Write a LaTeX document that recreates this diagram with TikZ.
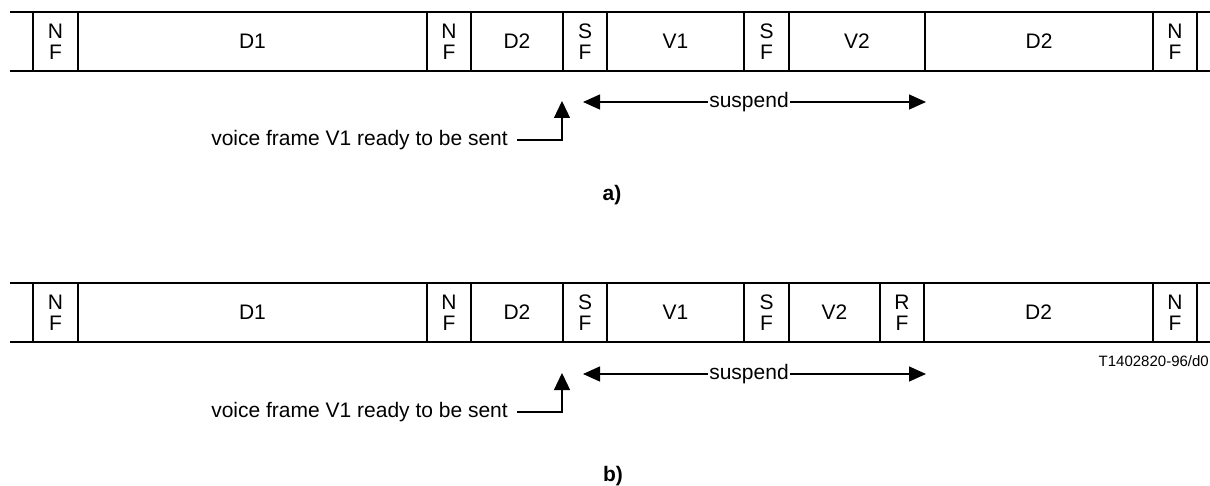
\documentclass[tikz,border=0pt]{standalone}
\usepackage{fontspec}
\setmainfont{Liberation Sans}
\usetikzlibrary{arrows.meta}
\newcommand\fcell[5]{\node[cell, minimum width={#3-#2}] (#1) at ({(#2+#3)/2},#4) {#5};}
\begin{document}
\begin{tikzpicture}[x=1pt,y=-1pt,
  cell/.style={draw, line width=2pt, minimum height=59pt, inner sep=0pt, align=center,
    font=\fontsize{21}{21}\selectfont},
  rail/.style={line width=2pt},
  lbl/.style={inner sep=0pt, font=\fontsize{21}{22}\selectfont},
  figcap/.style={inner sep=0pt, font=\fontsize{21}{22}\selectfont\bfseries},
  tip/.style={-{Triangle[length=17pt,width=16pt]}, line width=1.3pt},
  dbl/.style={{Triangle[length=17pt,width=15pt]}-{Triangle[length=17pt,width=15pt]}, line width=1.3pt}]
\useasboundingbox (0,0) rectangle (1210,486);
% ---------- row a ----------
\coordinate (aTL) at (10,12); \coordinate (aTR) at (1210,12);
\coordinate (aBL) at (10,71); \coordinate (aBR) at (1210,71);
\draw[rail] (aTL) -- (aTR);
\draw[rail] (aBL) -- (aBR);
\fcell{a1}{33}{78}{41.5}{N\\F}
\fcell{a2}{78}{427}{41.5}{D1}
\fcell{a3}{427}{471}{41.5}{N\\F}
\fcell{a4}{471}{563}{41.5}{D2}
\fcell{a5}{563}{607}{41.5}{S\\F}
\fcell{a6}{607}{744}{41.5}{V1}
\fcell{a7}{744}{789}{41.5}{S\\F}
\fcell{a8}{789}{925}{41.5}{V2}
\fcell{a9}{925}{1153}{41.5}{D2}
\fcell{a10}{1153}{1197}{41.5}{N\\F}
\node[lbl, anchor=east] (atxt) at (508,140) {voice frame V1 ready to be sent};
\coordinate (aS) at (517,140); \coordinate (aUp) at (562,101);
\draw[tip] (aS) -| (aUp);
\coordinate (aL) at (583,102); \coordinate (aR) at (926,102);
\draw[dbl] (aL) -- (aR);
\node[lbl, fill=white, inner xsep=1.5pt, inner ysep=2pt] (asus) at (749,102) {suspend};
\node[figcap] (acap) at (612,195) {a)};
% ---------- row b ----------
\coordinate (bTL) at (10,283); \coordinate (bTR) at (1210,283);
\coordinate (bBL) at (10,342); \coordinate (bBR) at (1210,342);
\draw[rail] (bTL) -- (bTR);
\draw[rail] (bBL) -- (bBR);
\fcell{b1}{33}{78}{312.5}{N\\F}
\fcell{b2}{78}{427}{312.5}{D1}
\fcell{b3}{427}{471}{312.5}{N\\F}
\fcell{b4}{471}{563}{312.5}{D2}
\fcell{b5}{563}{607}{312.5}{S\\F}
\fcell{b6}{607}{744}{312.5}{V1}
\fcell{b7}{744}{789}{312.5}{S\\F}
\fcell{b8}{789}{880}{312.5}{V2}
\fcell{b9}{880}{924}{312.5}{R\\F}
\fcell{b10}{924}{1153}{312.5}{D2}
\fcell{b11}{1153}{1197}{312.5}{N\\F}
\node[inner sep=0pt, anchor=east, font=\fontsize{15}{16}\selectfont] (bid) at (1209,361) {T1402820-96/d0};
\node[lbl, anchor=east] (btxt) at (508,412) {voice frame V1 ready to be sent};
\coordinate (bS) at (517,412); \coordinate (bUp) at (562,373);
\draw[tip] (bS) -| (bUp);
\coordinate (bL) at (583,374); \coordinate (bR) at (926,374);
\draw[dbl] (bL) -- (bR);
\node[lbl, fill=white, inner xsep=1.5pt, inner ysep=2pt] (bsus) at (749,374) {suspend};
\node[figcap] (bcap) at (613,476) {b)};
\end{tikzpicture}
\end{document}
